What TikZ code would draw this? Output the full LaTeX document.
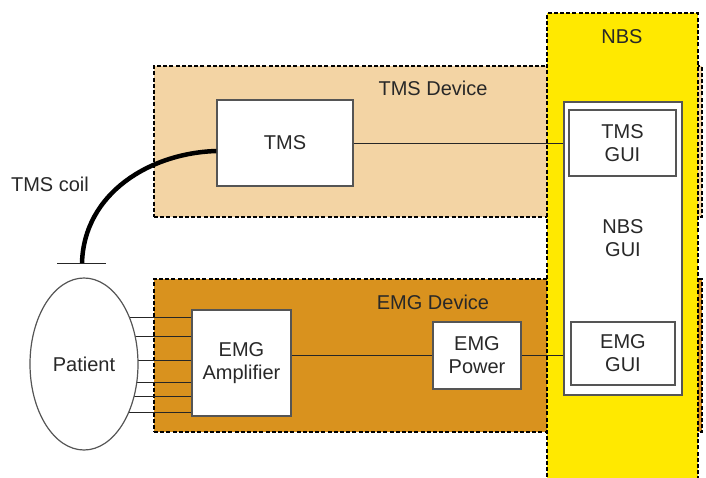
\documentclass[tikz,border=0pt]{standalone}
\usepackage{fontspec}
\setmainfont{Liberation Sans}
\usetikzlibrary{shapes.geometric,calc}
\pgfdeclarelayer{bg}\pgfdeclarelayer{mid}
\pgfsetlayers{bg,mid,main}
\definecolor{peach}{RGB}{243,212,164}
\definecolor{orangedev}{RGB}{217,146,30}
\definecolor{nbsyellow}{RGB}{255,233,0}
\definecolor{txt}{RGB}{40,40,40}
\definecolor{boxline}{RGB}{85,85,85}
\tikzset{
  devbox/.style={draw=black, line width=1.3pt, dash pattern=on 4pt off 2.2pt, inner sep=0pt},
  wbox/.style={draw=boxline, line width=1.2pt, fill=white, inner sep=0pt, align=center, text=txt},
  lbl/.style={text=txt, inner sep=0pt, align=center},
  wire/.style={draw=black!85, line width=1pt},
  coil/.style={draw=black, line width=4.5pt},
}
\begin{document}
\begin{tikzpicture}[x=1pt,y=-1pt,font=\fontsize{20}{23}\selectfont]
\useasboundingbox (0,0) rectangle (706,477);
\begin{pgfonlayer}{bg}
  \node[devbox, fill=peach, minimum width=548, minimum height=151] (tmsdev) at (428,141.5) {};
  \node[devbox, fill=orangedev, minimum width=548, minimum height=153] (emgdev) at (428,355.5) {};
  \node[devbox, fill=nbsyellow, minimum width=151, minimum height=490] (nbs) at (622.5,258) {};
\end{pgfonlayer}
\node[lbl] (tmsdevlbl) at (433,88) {TMS Device};
\node[lbl] (emgdevlbl) at (433,302) {EMG Device};
\node[lbl] (nbslbl) at (622,37) {NBS};
\node[wbox, minimum width=118, minimum height=293] (nbsgui) at (623,248.5) {};
\node[lbl] (nbsguilbl) at (623,238) {NBS\\GUI};
\node[wbox, minimum width=107, minimum height=66] (tmsgui) at (622.5,143) {TMS\\GUI};
\node[wbox, minimum width=104, minimum height=63] (emggui) at (623,353.5) {EMG\\GUI};
\node[wbox, minimum width=136, minimum height=86] (tms) at (285,143) {TMS};
\node[wbox, minimum width=99, minimum height=106] (amp) at (241.5,363) {EMG\\Amplifier};
\node[wbox, minimum width=88, minimum height=67] (power) at (477,355.5) {EMG\\Power};
\node[ellipse, draw=boxline, line width=1.2pt, fill=white, inner sep=0pt, minimum width=108, minimum height=172, text=txt] (patient) at (84,364) {Patient};
\node[lbl] (coillbl) at (50,184) {TMS coil};
\coordinate (coilend) at (82,263);
\coordinate (barL) at (57,263);
\coordinate (barR) at (106,263);
\begin{pgfonlayer}{mid}
  \draw[wire] (tms.east) -- (tmsgui.west);
  \draw[wire] (amp.east |- power.west) -- (power.west);
  \draw[wire] (power.east) -- (power.east -| emggui.west);
  \foreach \d [count=\i] in {-47,-28,-4,18,32,48}{
    \coordinate (pw\i) at ($(patient.center)+(0,\d)$);
    \draw[wire] (pw\i) -- (pw\i -| amp.west);
  }
\end{pgfonlayer}
\draw[coil] ([yshift=-8pt]tms.west) .. controls (150,153) and (84,193) .. (coilend);
\draw[wire] (barL) -- (barR);
\end{tikzpicture}
\end{document}
